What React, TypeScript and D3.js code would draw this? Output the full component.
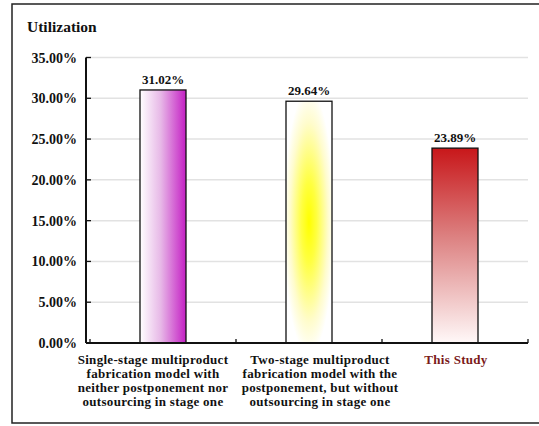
import { useEffect, useRef } from 'react';
import * as d3 from 'd3';

const categories = ['single', 'two', 'this'];
const values = [31.02, 29.64, 23.89];
const valueLabels = ['31.02%', '29.64%', '23.89%'];
const categoryLines = [
  ['Single-stage multiproduct', 'fabrication model with', 'neither postponement nor', 'outsourcing in stage one'],
  ['Two-stage multiproduct', 'fabrication model with the', 'postponement, but without', 'outsourcing in stage one'],
  ['This Study'],
];
const yTicks = [0, 5, 10, 15, 20, 25, 30, 35];

export default function App() {
  const svgRef = useRef<SVGSVGElement | null>(null);

  useEffect(() => {
    if (!svgRef.current) return;
    const width = 539;
    const font = '"Liberation Serif", "Times New Roman", serif';

    const svg = d3.select(svgRef.current);
    svg.selectAll('*').remove();

    // gradients for the three bars
    const defs = svg.append('defs');
    const g1 = defs.append('linearGradient').attr('id', 'gMagenta')
      .attr('x1', '0').attr('y1', '0').attr('x2', '1').attr('y2', '0');
    g1.append('stop').attr('offset', '0').attr('stop-color', '#ffffff');
    g1.append('stop').attr('offset', '0.45').attr('stop-color', '#e7b8e7');
    g1.append('stop').attr('offset', '1').attr('stop-color', '#c41fc4');

    const g2 = defs.append('radialGradient').attr('id', 'gYellow')
      .attr('cx', '0.5').attr('cy', '0.5').attr('r', '0.55');
    g2.append('stop').attr('offset', '0').attr('stop-color', '#ffff00');
    g2.append('stop').attr('offset', '0.3').attr('stop-color', '#ffff40');
    g2.append('stop').attr('offset', '0.75').attr('stop-color', '#fffccc');
    g2.append('stop').attr('offset', '1').attr('stop-color', '#ffffff');

    const g3 = defs.append('linearGradient').attr('id', 'gRed')
      .attr('x1', '0').attr('y1', '0').attr('x2', '0').attr('y2', '1');
    g3.append('stop').attr('offset', '0').attr('stop-color', '#c8171a');
    g3.append('stop').attr('offset', '0.45').attr('stop-color', '#dc8080');
    g3.append('stop').attr('offset', '1').attr('stop-color', '#fff8f8');

    const fills = ['url(#gMagenta)', 'url(#gYellow)', 'url(#gRed)'];

    // outer frame (right edge runs off the picture)
    svg.append('rect')
      .attr('x', 12).attr('y', 4)
      .attr('width', width + 10).attr('height', 419)
      .attr('fill', 'white')
      .attr('stroke', '#222').attr('stroke-width', 1.5);

    const axisX = 86;
    const x = d3.scaleBand().domain(categories).range([90, 528]).paddingInner(0).paddingOuter(0);
    const y = d3.scaleLinear().domain([0, 35]).range([343, 57.5]);
    const barW = 46;
    const mid = (i: number) => (x(categories[i]) as number) + x.bandwidth() / 2;

    // gridlines
    svg.append('g').selectAll('line').data(yTicks.filter(t => t > 0)).join('line')
      .attr('x1', axisX).attr('x2', 528)
      .attr('y1', d => y(d)).attr('y2', d => y(d))
      .attr('stroke', '#e2e2e2').attr('stroke-width', 1.5);

    // bars
    svg.append('g').selectAll('rect').data(values).join('rect')
      .attr('x', (d, i) => mid(i) - barW / 2)
      .attr('y', d => y(d))
      .attr('width', barW)
      .attr('height', d => y(0) - y(d))
      .attr('fill', (d, i) => fills[i])
      .attr('stroke', '#111').attr('stroke-width', 1.3);

    // value labels
    svg.append('g').selectAll('text').data(values).join('text')
      .attr('x', (d, i) => mid(i))
      .attr('y', d => y(d) - 6)
      .attr('text-anchor', 'middle')
      .attr('font-family', font).attr('font-weight', 'bold').attr('font-size', 13)
      .attr('fill', '#111')
      .text((d, i) => valueLabels[i]);

    // axes
    svg.append('line').attr('x1', axisX).attr('x2', axisX).attr('y1', y(35)).attr('y2', y(0))
      .attr('stroke', '#111').attr('stroke-width', 2);
    svg.append('line').attr('x1', axisX).attr('x2', 528).attr('y1', y(0)).attr('y2', y(0))
      .attr('stroke', '#111').attr('stroke-width', 2);

    // y ticks (inward) and labels
    const yt = svg.append('g');
    yt.selectAll('line').data(yTicks).join('line')
      .attr('x1', axisX).attr('x2', axisX + 5)
      .attr('y1', d => y(d)).attr('y2', d => y(d))
      .attr('stroke', '#111').attr('stroke-width', 1.3);
    yt.selectAll('text').data(yTicks).join('text')
      .attr('x', 77).attr('y', d => y(d) + 5)
      .attr('text-anchor', 'end')
      .attr('font-family', font).attr('font-weight', 'bold').attr('font-size', 14)
      .attr('fill', '#111')
      .text(d => d3.format('.2f')(d) + '%');

    // x ticks (inward) at band edges
    const edges = categories.map(c => x(c) as number).concat([528]);
    svg.append('g').selectAll('line').data(edges).join('line')
      .attr('x1', d => d).attr('x2', d => d)
      .attr('y1', y(0)).attr('y2', y(0) - 4)
      .attr('stroke', '#111').attr('stroke-width', 1.3);

    // category labels
    const labelOffset = [-10, 11, 1];
    const cl = svg.append('g');
    categoryLines.forEach((lines, i) => {
      const t = cl.append('text')
        .attr('x', mid(i) + labelOffset[i])
        .attr('y', 364)
        .attr('text-anchor', 'middle')
        .attr('font-family', font).attr('font-weight', 'bold').attr('font-size', 13)
        .attr('letter-spacing', 0.3)
        .attr('fill', i === 2 ? '#7b1a1a' : '#111');
      lines.forEach((ln, j) => {
        t.append('tspan')
          .attr('x', mid(i) + labelOffset[i])
          .attr('dy', j === 0 ? 0 : 14)
          .text(ln);
      });
    });

    // title
    svg.append('text')
      .attr('x', 27).attr('y', 32)
      .attr('font-family', font).attr('font-weight', 'bold').attr('font-size', 15.5)
      .attr('fill', '#111')
      .text('Utilization');
  }, []);

  return (
    <div style={{ position: 'absolute', left: 0, top: 0 }}>
      <svg ref={svgRef} width={539} height={426} style={{ display: 'block' }} />
    </div>
  );
}
